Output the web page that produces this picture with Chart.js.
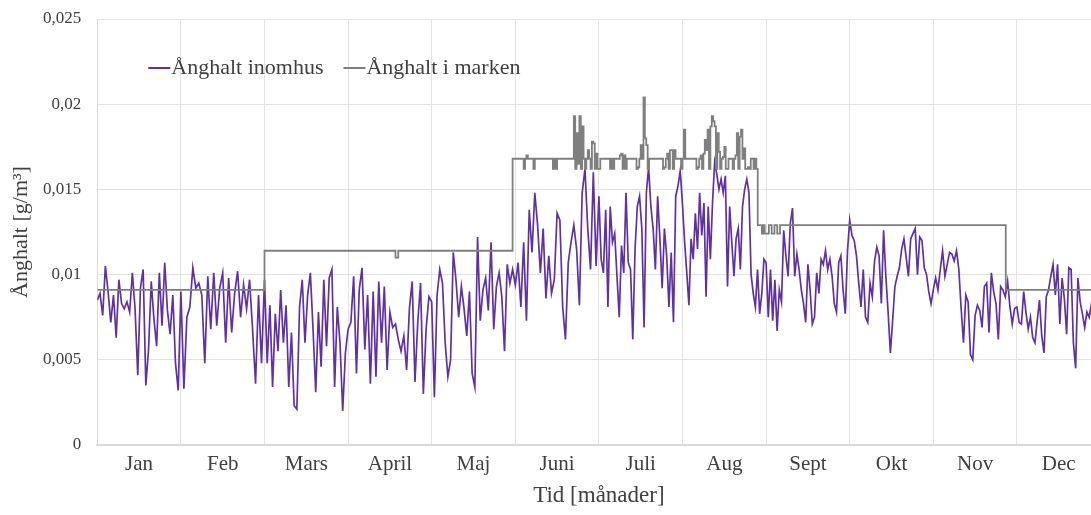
<!DOCTYPE html>
<html>
<head>
<meta charset="utf-8">
<script src="https://cdn.jsdelivr.net/npm/chart.js@4.4.1/dist/chart.umd.min.js"></script>
<style>
  html, body { margin: 0; padding: 0; background: #fff; overflow: hidden; }
  #wrap { width: 1091px; height: 515px; overflow: hidden; }
</style>
</head>
<body>
<div id="wrap"><canvas id="angChart" width="1101" height="515"></canvas></div>
<script>
// Månader och y-axelns etiketter
const months = ['Jan', 'Feb', 'Mars', 'April', 'Maj', 'Juni', 'Juli', 'Aug', 'Sept', 'Okt', 'Nov', 'Dec'];
const yTicks = [0, 0.005, 0.01, 0.015, 0.02, 0.025];
const yTickLabels = ['0', '0,005', '0,01', '0,015', '0,02', '0,025'];

// Ånghalt inomhus [g/m3], avläst per månad
const inneJan = [0.0085, 0.0089, 0.0076, 0.0105, 0.0090, 0.0072, 0.0088, 0.0063, 0.0097, 0.0083, 0.0080, 0.0084, 0.0078, 0.0101, 0.0080, 0.0041, 0.0092, 0.0103, 0.0035, 0.0056, 0.0096, 0.0074, 0.0058, 0.0101, 0.0070, 0.0107, 0.0079, 0.0065, 0.0088, 0.0048, 0.0032];
const inneFeb = [0.0090, 0.0033, 0.0075, 0.0081, 0.0104, 0.0092, 0.0095, 0.0088, 0.0048, 0.0099, 0.0068, 0.0101, 0.0070, 0.0092, 0.0101, 0.0060, 0.0098, 0.0066, 0.0089, 0.0102, 0.0075, 0.0094, 0.0080, 0.0097, 0.0068, 0.0036, 0.0088, 0.0048];
const inneMar = [0.0097, 0.0048, 0.0082, 0.0034, 0.0077, 0.0055, 0.0091, 0.0060, 0.0082, 0.0034, 0.0066, 0.0023, 0.0021, 0.0081, 0.0097, 0.0060, 0.0088, 0.0101, 0.0068, 0.0031, 0.0078, 0.0046, 0.0097, 0.0058, 0.0098, 0.0103, 0.0034, 0.0081, 0.0060, 0.0020, 0.0054];
const inneApr = [0.0068, 0.0072, 0.0099, 0.0042, 0.0091, 0.0104, 0.0056, 0.0088, 0.0036, 0.0090, 0.0040, 0.0096, 0.0060, 0.0093, 0.0044, 0.0078, 0.0069, 0.0071, 0.0062, 0.0055, 0.0064, 0.0044, 0.0080, 0.0096, 0.0037, 0.0072, 0.0095, 0.0030, 0.0068, 0.0087];
const inneMaj = [0.0084, 0.0028, 0.0088, 0.0103, 0.0095, 0.0060, 0.0040, 0.0050, 0.0113, 0.0097, 0.0075, 0.0093, 0.0080, 0.0064, 0.0090, 0.0042, 0.0034, 0.0122, 0.0073, 0.0091, 0.0098, 0.0079, 0.0119, 0.0068, 0.0093, 0.0101, 0.0087, 0.0055, 0.0106, 0.0095, 0.0103];
const inneJun = [0.0094, 0.0107, 0.0081, 0.0119, 0.0073, 0.0138, 0.0113, 0.0148, 0.0129, 0.0101, 0.0127, 0.0086, 0.0111, 0.0089, 0.0097, 0.0136, 0.0132, 0.0081, 0.0062, 0.0107, 0.0119, 0.0129, 0.0115, 0.0082, 0.0148, 0.0162, 0.0127, 0.0103, 0.0160, 0.0105];
const inneJul = [0.0146, 0.0109, 0.0101, 0.0138, 0.0081, 0.0140, 0.0119, 0.0124, 0.0099, 0.0075, 0.0117, 0.0101, 0.0148, 0.0107, 0.0103, 0.0062, 0.0115, 0.0140, 0.0146, 0.0127, 0.0069, 0.0148, 0.0163, 0.0140, 0.0127, 0.0103, 0.0146, 0.0121, 0.0092, 0.0127, 0.0111, 0.0081, 0.0113, 0.0072, 0.0146, 0.0152, 0.0161];
const inneAug = [0.0141, 0.0119, 0.0101, 0.0082, 0.0121, 0.0109, 0.0136, 0.0115, 0.0148, 0.0123, 0.0142, 0.0087, 0.0140, 0.0109, 0.0142, 0.0166, 0.0159, 0.0150, 0.0156, 0.0148, 0.0158, 0.0093, 0.0140, 0.0119, 0.0099, 0.0121, 0.0127, 0.0103, 0.0140, 0.0150, 0.0156, 0.0148, 0.0100, 0.0089, 0.0081, 0.0103, 0.0077, 0.0089, 0.0109];
const inneSep = [0.0107, 0.0075, 0.0103, 0.0073, 0.0097, 0.0067, 0.0091, 0.0084, 0.0126, 0.0111, 0.0099, 0.0130, 0.0139, 0.0099, 0.0112, 0.0103, 0.0091, 0.0083, 0.0072, 0.0106, 0.0091, 0.0071, 0.0075, 0.0101, 0.0089, 0.0109, 0.0106, 0.0114, 0.0103, 0.0109, 0.0099, 0.0083, 0.0078, 0.0107, 0.0111, 0.0091, 0.0077, 0.0114];
const inneOkt = [0.0132, 0.0123, 0.0120, 0.0111, 0.0095, 0.0081, 0.0103, 0.0075, 0.0072, 0.0095, 0.0087, 0.0108, 0.0116, 0.0111, 0.0083, 0.0126, 0.0099, 0.0078, 0.0054, 0.0073, 0.0093, 0.0099, 0.0104, 0.0115, 0.0121, 0.0110, 0.0099, 0.0121, 0.0124, 0.0127, 0.0100, 0.0122, 0.0120, 0.0104, 0.0100, 0.0090, 0.0083];
const inneNov = [0.0091, 0.0098, 0.0091, 0.0103, 0.0114, 0.0099, 0.0106, 0.0113, 0.0112, 0.0108, 0.0114, 0.0103, 0.0080, 0.0060, 0.0088, 0.0084, 0.0053, 0.0050, 0.0076, 0.0082, 0.0079, 0.0069, 0.0093, 0.0095, 0.0066, 0.0101, 0.0090, 0.0083, 0.0062, 0.0093, 0.0091, 0.0087, 0.0096, 0.0081, 0.0071, 0.0080];
const inneDec = [0.0081, 0.0072, 0.0071, 0.0090, 0.0078, 0.0068, 0.0075, 0.0063, 0.0060, 0.0073, 0.0085, 0.0064, 0.0054, 0.0087, 0.0091, 0.0099, 0.0106, 0.0088, 0.0106, 0.0071, 0.0098, 0.0086, 0.0065, 0.0104, 0.0103, 0.0060, 0.0045, 0.0098, 0.0084, 0.0077, 0.0069, 0.0078, 0.0075, 0.0083, 0.0080, 0.0078, 0.0082];

// Ånghalt i marken [g/m3], avläst per månad
const markJan = [0.0091];
const markFeb = [0.0091];
const markMar = [0.0114];
const markApr = [0.0114, 0.0114, 0.0114, 0.0114, 0.0114, 0.0114, 0.0114, 0.0114, 0.0114, 0.0114, 0.0114, 0.0114, 0.0114, 0.0114, 0.0114, 0.0114, 0.0114, 0.0110, 0.0114, 0.0114, 0.0114, 0.0114, 0.0114, 0.0114, 0.0114, 0.0114, 0.0114, 0.0114, 0.0114, 0.0114];
const markMaj = [0.0114, 0.0114, 0.0114, 0.0114, 0.0114, 0.0114, 0.0114, 0.0114, 0.0114, 0.0114, 0.0114, 0.0114, 0.0114, 0.0114, 0.0114, 0.0114, 0.0114, 0.0114, 0.0114, 0.0114, 0.0114, 0.0114, 0.0114, 0.0114, 0.0114, 0.0114, 0.0114, 0.0114, 0.0114, 0.0114, 0.0168];
const markJun = [0.0168, 0.0168, 0.0168, 0.0168, 0.0168, 0.0168, 0.0162, 0.0168, 0.0170, 0.0168, 0.0168, 0.0168, 0.0168, 0.0162, 0.0168, 0.0168, 0.0168, 0.0168, 0.0168, 0.0168, 0.0168, 0.0168, 0.0168, 0.0168, 0.0168, 0.0168, 0.0168, 0.0162, 0.0168, 0.0162, 0.0168, 0.0168, 0.0168, 0.0168, 0.0168, 0.0168, 0.0168, 0.0168, 0.0168, 0.0168, 0.0168, 0.0168, 0.0193, 0.0162, 0.0183, 0.0165, 0.0193, 0.0162, 0.0187, 0.0168, 0.0162, 0.0168, 0.0173, 0.0168, 0.0162, 0.0178, 0.0177, 0.0162, 0.0171, 0.0162];
const markJul = [0.0162, 0.0168, 0.0168, 0.0168, 0.0168, 0.0168, 0.0168, 0.0168, 0.0162, 0.0168, 0.0162, 0.0168, 0.0168, 0.0168, 0.0168, 0.0170, 0.0171, 0.0162, 0.0170, 0.0162, 0.0168, 0.0168, 0.0168, 0.0168, 0.0168, 0.0168, 0.0168, 0.0162, 0.0163, 0.0168, 0.0176, 0.0168, 0.0204, 0.0180, 0.0176, 0.0162, 0.0168, 0.0168, 0.0168, 0.0168, 0.0168, 0.0168, 0.0168, 0.0168, 0.0168, 0.0168, 0.0162, 0.0163, 0.0168, 0.0171, 0.0162, 0.0173, 0.0173, 0.0162, 0.0173, 0.0168, 0.0168, 0.0168, 0.0168, 0.0162];
const markAug = [0.0168, 0.0185, 0.0168, 0.0168, 0.0168, 0.0168, 0.0168, 0.0168, 0.0168, 0.0168, 0.0162, 0.0163, 0.0168, 0.0170, 0.0162, 0.0171, 0.0179, 0.0173, 0.0185, 0.0162, 0.0187, 0.0193, 0.0190, 0.0187, 0.0162, 0.0183, 0.0172, 0.0162, 0.0168, 0.0169, 0.0175, 0.0162, 0.0162, 0.0168, 0.0168, 0.0168, 0.0162, 0.0168, 0.0170, 0.0183, 0.0162, 0.0181, 0.0185, 0.0168, 0.0174, 0.0162, 0.0162, 0.0163, 0.0162, 0.0168, 0.0168, 0.0162, 0.0168, 0.0162, 0.0129, 0.0129, 0.0129, 0.0124, 0.0129, 0.0124];
const markSep = [0.0124, 0.0129, 0.0124, 0.0129, 0.0124, 0.0129, 0.0129, 0.0129, 0.0129, 0.0129, 0.0129, 0.0129, 0.0129, 0.0129, 0.0129, 0.0129, 0.0129, 0.0129, 0.0129, 0.0129, 0.0129, 0.0129, 0.0129, 0.0129, 0.0129, 0.0129, 0.0129, 0.0129, 0.0129, 0.0129];
const markOkt = [0.0129];
const markNov = [0.0129, 0.0129, 0.0129, 0.0129, 0.0129, 0.0129, 0.0129, 0.0129, 0.0129, 0.0129, 0.0129, 0.0129, 0.0129, 0.0091, 0.0091];
const markDec = [0.0091];

const inomhus = [inneJan, inneFeb, inneMar, inneApr, inneMaj, inneJun, inneJul, inneAug, inneSep, inneOkt, inneNov, inneDec];
const marken = [markJan, markFeb, markMar, markApr, markMaj, markJun, markJul, markAug, markSep, markOkt, markNov, markDec];

// Varje månad är lika bred på x-axeln (0..12); värdena fördelas jämnt inom månaden
function toPoints(monthly) {
    const pts = [];
    monthly.forEach((vals, m) => {
        vals.forEach((v, i) => pts.push({ x: m + i / vals.length, y: v }));
    });
    const last = monthly[monthly.length - 1];
    pts.push({ x: monthly.length, y: last[last.length - 1] });
    return pts;
}

const textColor = '#404040';
const serif = '"Liberation Serif", "Times New Roman", serif';

// Förklaringen ligger inne i diagramytan
const innerLegend = {
    id: 'innerLegend',
    afterDraw(chart) {
        const { ctx, chartArea } = chart;
        ctx.save();
        ctx.font = '22px ' + serif;
        ctx.textBaseline = 'alphabetic';
        let x = chartArea.left + 51;
        const y = chartArea.top + 49;
        chart.data.datasets.forEach(ds => {
            ctx.strokeStyle = ds.borderColor;
            ctx.lineWidth = 2;
            ctx.beginPath();
            ctx.moveTo(x, y);
            ctx.lineTo(x + 22, y);
            ctx.stroke();
            ctx.fillStyle = textColor;
            ctx.fillText(ds.label, x + 23, y + 6);
            x += 23 + ctx.measureText(ds.label).width + 20;
        });
        ctx.restore();
    }
};

const ctx = document.getElementById('angChart').getContext('2d');
const angChart = new Chart(ctx, {
    type: 'line',
    data: {
        datasets: [{
            label: 'Ånghalt inomhus',
            data: toPoints(inomhus),
            borderColor: '#6032a0',
            borderWidth: 1.7,
            order: 1
        }, {
            label: 'Ånghalt i marken',
            data: toPoints(marken),
            borderColor: '#7f7f7f',
            borderWidth: 1.8,
            stepped: true,
            order: 0
        }]
    },
    options: {
        responsive: false,
        animation: false,
        layout: { padding: { top: 19, right: 0.5, bottom: 0, left: 0 } },
        elements: { point: { radius: 0 } },
        plugins: {
            legend: { display: false },
            tooltip: { enabled: false }
        },
        scales: {
            x: {
                type: 'linear',
                min: 0,
                max: 12,
                afterBuildTicks: scale => { scale.ticks = months.map((m, i) => ({ value: i + 0.5 })); },
                afterFit: scale => { scale.height = 70; },
                grid: { offset: true, color: '#e3e3e3', drawTicks: false },
                border: { color: '#d9d9d9', width: 2 },
                ticks: {
                    autoSkip: false,
                    maxRotation: 0,
                    padding: 7,
                    color: textColor,
                    font: { family: serif, size: 21 },
                    callback: (v, i) => months[i]
                },
                title: {
                    display: true,
                    text: 'Tid [månader]',
                    color: textColor,
                    font: { family: serif, size: 23 },
                    padding: { top: 6, bottom: 5 }
                }
            },
            y: {
                min: 0,
                max: 0.025,
                afterBuildTicks: scale => { scale.ticks = yTicks.map(v => ({ value: v })); },
                afterFit: scale => { scale.width = 97.3; },
                grid: { color: '#e3e3e3', drawTicks: true, tickLength: 13, tickColor: 'rgba(0,0,0,0)' },
                border: { color: '#d9d9d9', width: 1 },
                ticks: {
                    padding: 3,
                    color: textColor,
                    font: { family: serif, size: 17 },
                    callback: (v, i) => yTickLabels[i]
                },
                title: {
                    display: true,
                    text: 'Ånghalt [g/m³]',
                    color: textColor,
                    font: { family: serif, size: 22 },
                    padding: { top: 8, bottom: 0 }
                }
            }
        }
    },
    plugins: [innerLegend]
});
</script>
</body>
</html>
